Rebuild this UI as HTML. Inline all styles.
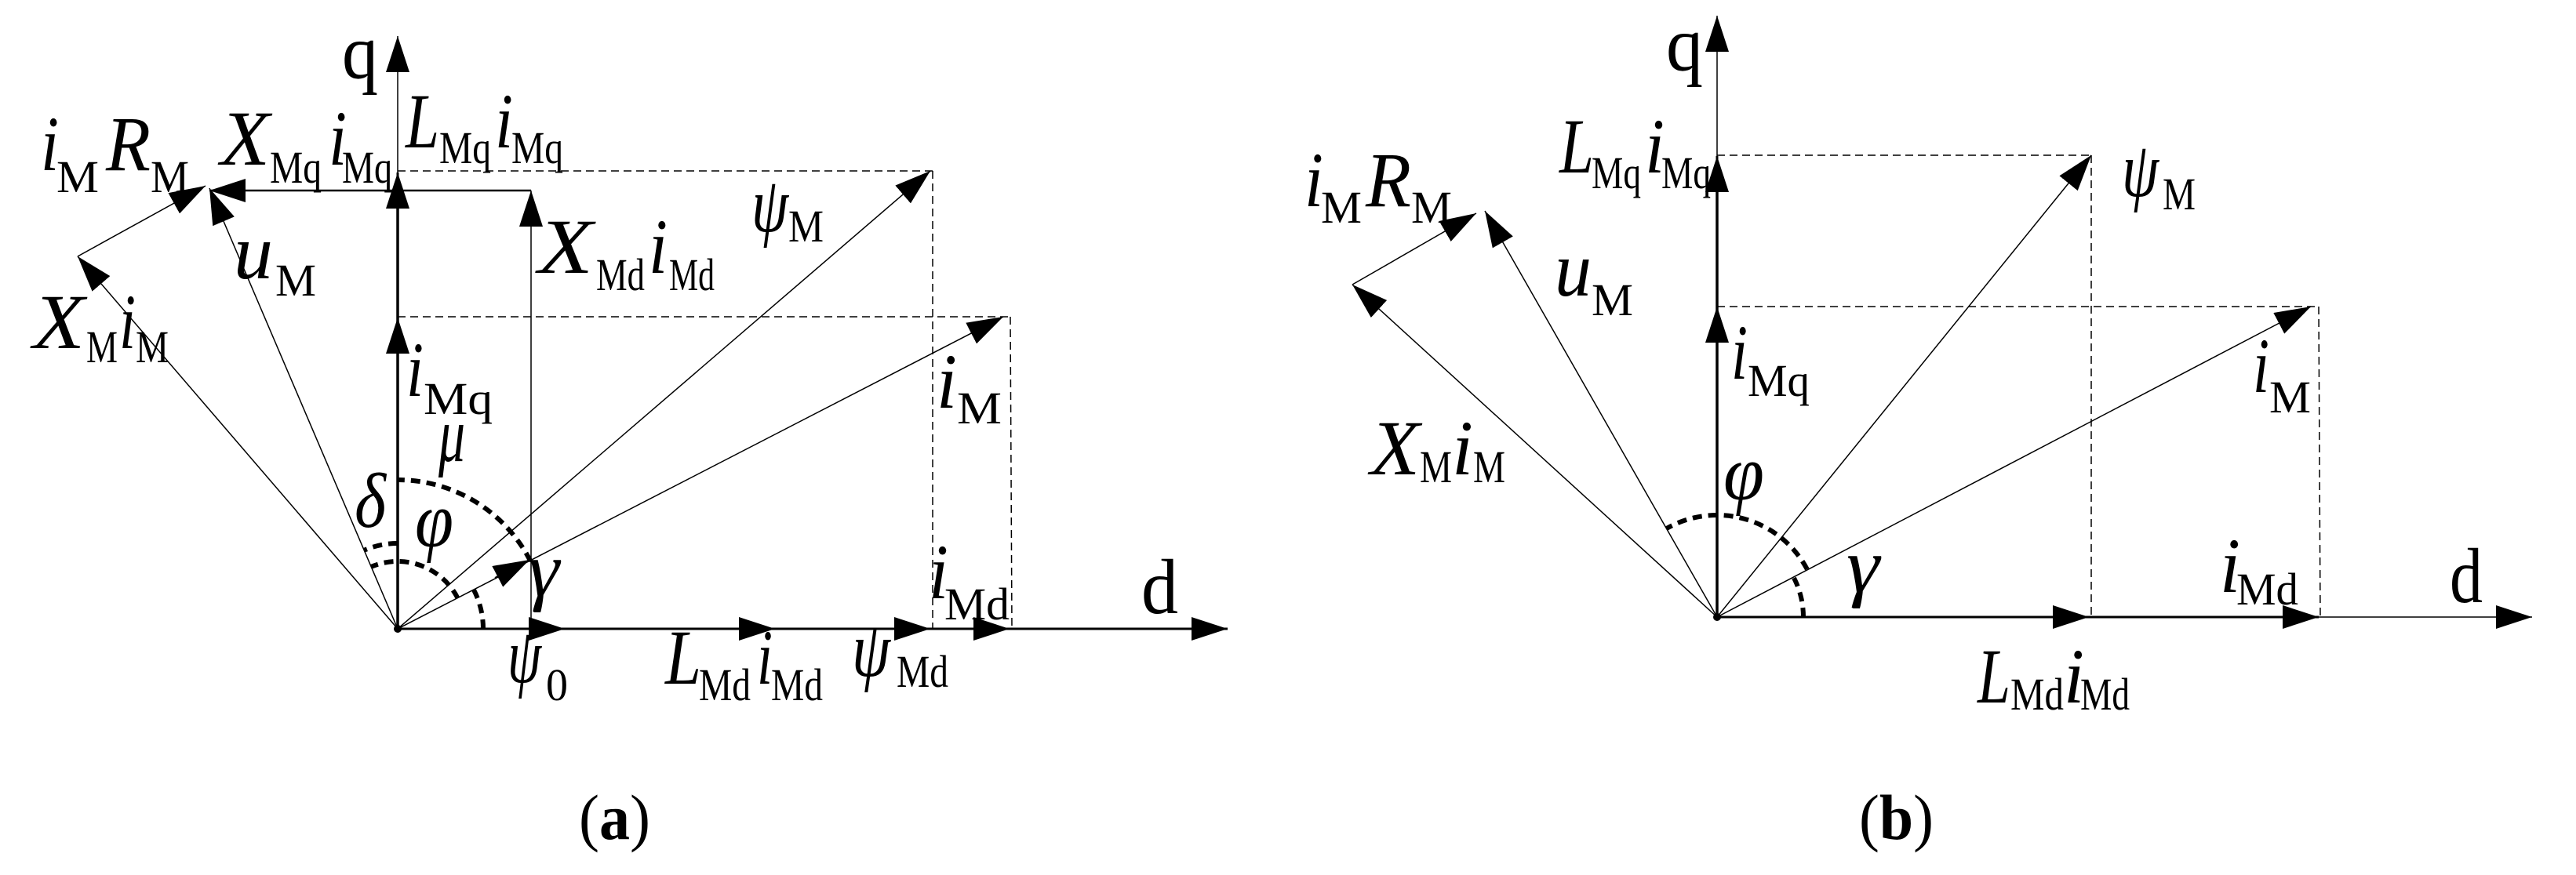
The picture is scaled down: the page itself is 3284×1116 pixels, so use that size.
<!DOCTYPE html>
<html><head><meta charset="utf-8"><style>
html,body{margin:0;padding:0;background:#fff;}
svg{display:block}
.m{font-family:"Liberation Serif",serif;font-style:italic;font-size:100px;fill:#000}
.u{font-family:"Liberation Serif",serif;font-size:100px;fill:#000}
.s{font-family:"Liberation Serif",serif;font-size:58px;fill:#000}
.c{font-family:"Liberation Serif",serif;font-size:82px;fill:#000}
</style></head><body>
<svg width="3284" height="1116" viewBox="0 0 3284 1116" xmlns="http://www.w3.org/2000/svg">
<defs>
<marker id="a" markerWidth="46" markerHeight="30" refX="46" refY="15" orient="auto" markerUnits="userSpaceOnUse"><path d="M0,0 L46,15 L0,30 z" fill="#000"/></marker>
</defs>
<rect width="3284" height="1116" fill="#fff"/>
<g stroke="#000" fill="none">
<!-- Panel a -->
<line x1="507" y1="802" x2="1565" y2="802" stroke-width="3" marker-end="url(#a)"/>
<line x1="670" y1="802" x2="720" y2="802" stroke-width="3" marker-end="url(#a)"/>
<line x1="938" y1="802" x2="988" y2="802" stroke-width="3" marker-end="url(#a)"/>
<line x1="1136" y1="802" x2="1186" y2="802" stroke-width="3" marker-end="url(#a)"/>
<line x1="1237" y1="802" x2="1287" y2="802" stroke-width="3" marker-end="url(#a)"/>
<line x1="507" y1="802" x2="507" y2="46" stroke-width="1.5" marker-end="url(#a)"/>
<line x1="507" y1="802" x2="507" y2="243" stroke-width="3.5"/>
<line x1="507" y1="270" x2="507" y2="220" stroke-width="3" marker-end="url(#a)"/>
<line x1="507" y1="455" x2="507" y2="405" stroke-width="3" marker-end="url(#a)"/>
<line x1="677" y1="243" x2="267" y2="243" stroke-width="2.5" marker-end="url(#a)"/>
<line x1="677" y1="802" x2="677" y2="243" stroke-width="1.5" marker-end="url(#a)"/>
<line x1="507" y1="802" x2="267" y2="240" stroke-width="1.5" marker-end="url(#a)"/>
<line x1="507" y1="802" x2="99" y2="327" stroke-width="1.5" marker-end="url(#a)"/>
<line x1="99" y1="327" x2="262" y2="237" stroke-width="1.5" marker-end="url(#a)"/>
<line x1="507" y1="802" x2="1186" y2="218" stroke-width="1.5" marker-end="url(#a)"/>
<line x1="507" y1="802" x2="1279" y2="404" stroke-width="1.5" marker-end="url(#a)"/>
<line x1="631" y1="737" x2="675" y2="714" stroke-width="2" marker-end="url(#a)"/>
<g stroke-width="1.5" stroke-dasharray="10 6">
<line x1="507" y1="218" x2="1189" y2="218"/>
<line x1="1189" y1="218" x2="1189" y2="802"/>
<line x1="507" y1="404" x2="1288" y2="404"/>
<line x1="1288" y1="404" x2="1290" y2="802"/>
</g>
<g stroke-width="6" stroke-dasharray="12 8">
<path d="M616,802 A109,109 0 0 0 604.1,752.5"/>
<path d="M583.6,763 A86,86 0 0 0 473.4,722.8"/>
<path d="M507,693 A109,109 0 0 0 464.4,701.7"/>
<path d="M676.3,715.7 A190,190 0 0 0 507,612"/>
</g>
<!-- Panel b -->
<line x1="2189" y1="787" x2="3228" y2="787" stroke-width="1.5" marker-end="url(#a)"/>
<line x1="2189" y1="787" x2="2956" y2="787" stroke-width="3"/>
<line x1="2613" y1="787" x2="2663" y2="787" stroke-width="3" marker-end="url(#a)"/>
<line x1="2906" y1="787" x2="2956" y2="787" stroke-width="3" marker-end="url(#a)"/>
<line x1="2189" y1="787" x2="2189" y2="20" stroke-width="1.5" marker-end="url(#a)"/>
<line x1="2189" y1="787" x2="2189" y2="220" stroke-width="3.5"/>
<line x1="2189" y1="250" x2="2189" y2="199" stroke-width="3" marker-end="url(#a)"/>
<line x1="2189" y1="441" x2="2189" y2="391" stroke-width="3" marker-end="url(#a)"/>
<line x1="2189" y1="787" x2="2666" y2="198" stroke-width="1.5" marker-end="url(#a)"/>
<line x1="2189" y1="787" x2="2946" y2="391" stroke-width="1.5" marker-end="url(#a)"/>
<line x1="2189" y1="787" x2="1893" y2="269" stroke-width="1.5" marker-end="url(#a)"/>
<line x1="2189" y1="787" x2="1724" y2="363" stroke-width="1.5" marker-end="url(#a)"/>
<line x1="1724" y1="363" x2="1882" y2="272" stroke-width="1.5" marker-end="url(#a)"/>
<g stroke-width="1.5" stroke-dasharray="10 6">
<line x1="2189" y1="198" x2="2666" y2="198"/>
<line x1="2666" y1="198" x2="2666" y2="787"/>
<line x1="2189" y1="391" x2="2956" y2="391"/>
<line x1="2956" y1="391" x2="2958" y2="787"/>
</g>
<g stroke-width="6" stroke-dasharray="12 8">
<path d="M2303.8,726 A130,130 0 0 0 2124,674.4"/>
<path d="M2299,787 A110,110 0 0 0 2287,737.1"/>
</g>
</g>
<circle cx="507" cy="802" r="5" fill="#000"/>
<circle cx="2189" cy="787" r="5" fill="#000"/>

<!-- Labels a -->
<text class="u" x="436" y="100" textLength="46" lengthAdjust="spacingAndGlyphs">q</text>
<text class="m" x="52" y="217" textLength="23" lengthAdjust="spacingAndGlyphs">i</text>
<text class="s" x="72" y="245" textLength="54" lengthAdjust="spacingAndGlyphs">M</text>
<text class="m" x="135" y="217" textLength="57" lengthAdjust="spacingAndGlyphs">R</text>
<text class="s" x="192" y="245" textLength="49" lengthAdjust="spacingAndGlyphs">M</text>
<text class="m" x="281" y="210" textLength="63" lengthAdjust="spacingAndGlyphs">X</text>
<text class="s" x="344" y="233" textLength="66" lengthAdjust="spacingAndGlyphs">Mq</text>
<text class="m" x="419" y="210" textLength="23" lengthAdjust="spacingAndGlyphs">i</text>
<text class="s" x="436" y="233" textLength="64" lengthAdjust="spacingAndGlyphs">Mq</text>
<text class="m" x="517" y="188" textLength="43" lengthAdjust="spacingAndGlyphs">L</text>
<text class="s" x="560" y="208" textLength="66" lengthAdjust="spacingAndGlyphs">Mq</text>
<text class="m" x="631" y="188" textLength="23" lengthAdjust="spacingAndGlyphs">i</text>
<text class="s" x="652" y="208" textLength="66" lengthAdjust="spacingAndGlyphs">Mq</text>
<text class="m" x="686" y="348" textLength="70" lengthAdjust="spacingAndGlyphs">X</text>
<text class="s" x="760" y="370" textLength="62" lengthAdjust="spacingAndGlyphs">Md</text>
<text class="m" x="827" y="348" textLength="24" lengthAdjust="spacingAndGlyphs">i</text>
<text class="s" x="853" y="370" textLength="58" lengthAdjust="spacingAndGlyphs">Md</text>
<text class="m" x="958" y="295" textLength="47" lengthAdjust="spacingAndGlyphs">ψ</text>
<text class="s" x="1005" y="308" textLength="45" lengthAdjust="spacingAndGlyphs">M</text>
<text class="m" x="298" y="355" textLength="50" lengthAdjust="spacingAndGlyphs">u</text>
<text class="s" x="351" y="377" textLength="52" lengthAdjust="spacingAndGlyphs">M</text>
<text class="m" x="42" y="444" textLength="66" lengthAdjust="spacingAndGlyphs">X</text>
<text class="s" x="110" y="462" textLength="40" lengthAdjust="spacingAndGlyphs">M</text>
<text class="m" x="152" y="444" textLength="21" lengthAdjust="spacingAndGlyphs">i</text>
<text class="s" x="173" y="462" textLength="42" lengthAdjust="spacingAndGlyphs">M</text>
<text class="m" x="518" y="505" textLength="22" lengthAdjust="spacingAndGlyphs">i</text>
<text class="s" x="540" y="528" textLength="88" lengthAdjust="spacingAndGlyphs">Mq</text>
<text class="m" x="1194" y="520" textLength="26" lengthAdjust="spacingAndGlyphs">i</text>
<text class="s" x="1220" y="540" textLength="57" lengthAdjust="spacingAndGlyphs">M</text>
<text class="m" x="559" y="588" textLength="34" lengthAdjust="spacingAndGlyphs">μ</text>
<text class="m" x="452" y="672" textLength="40" lengthAdjust="spacingAndGlyphs">δ</text>
<text class="m" x="529" y="697" textLength="49" lengthAdjust="spacingAndGlyphs">φ</text>
<text class="m" x="673" y="760" textLength="40" lengthAdjust="spacingAndGlyphs">γ</text>
<text class="m" x="1184" y="763" textLength="25" lengthAdjust="spacingAndGlyphs">i</text>
<text class="s" x="1204" y="790" textLength="83" lengthAdjust="spacingAndGlyphs">Md</text>
<text class="u" x="1455" y="782" textLength="47" lengthAdjust="spacingAndGlyphs">d</text>
<text class="m" x="647" y="870" textLength="43" lengthAdjust="spacingAndGlyphs">ψ</text>
<text class="s" x="696" y="893" textLength="28" lengthAdjust="spacingAndGlyphs">0</text>
<text class="m" x="848" y="872" textLength="46" lengthAdjust="spacingAndGlyphs">L</text>
<text class="s" x="891" y="893" textLength="66" lengthAdjust="spacingAndGlyphs">Md</text>
<text class="m" x="965" y="872" textLength="20" lengthAdjust="spacingAndGlyphs">i</text>
<text class="s" x="983" y="893" textLength="66" lengthAdjust="spacingAndGlyphs">Md</text>
<text class="m" x="1086" y="862" textLength="49" lengthAdjust="spacingAndGlyphs">ψ</text>
<text class="s" x="1143" y="876" textLength="66" lengthAdjust="spacingAndGlyphs">Md</text>
<text class="c" x="738" y="1070" textLength="91" lengthAdjust="spacingAndGlyphs">(<tspan font-weight="bold">a</tspan>)</text>

<!-- Labels b -->
<text class="u" x="2124" y="90" textLength="47" lengthAdjust="spacingAndGlyphs">q</text>
<text class="m" x="1988" y="220" textLength="44" lengthAdjust="spacingAndGlyphs">L</text>
<text class="s" x="2029" y="240" textLength="63" lengthAdjust="spacingAndGlyphs">Mq</text>
<text class="m" x="2097" y="220" textLength="25" lengthAdjust="spacingAndGlyphs">i</text>
<text class="s" x="2118" y="240" textLength="63" lengthAdjust="spacingAndGlyphs">Mq</text>
<text class="m" x="2705" y="250" textLength="47" lengthAdjust="spacingAndGlyphs">ψ</text>
<text class="s" x="2757" y="267" textLength="42" lengthAdjust="spacingAndGlyphs">M</text>
<text class="m" x="1663" y="263" textLength="24" lengthAdjust="spacingAndGlyphs">i</text>
<text class="s" x="1684" y="284" textLength="52" lengthAdjust="spacingAndGlyphs">M</text>
<text class="m" x="1741" y="263" textLength="58" lengthAdjust="spacingAndGlyphs">R</text>
<text class="s" x="1799" y="284" textLength="52" lengthAdjust="spacingAndGlyphs">M</text>
<text class="m" x="1982" y="377" textLength="47" lengthAdjust="spacingAndGlyphs">u</text>
<text class="s" x="2029" y="402" textLength="53" lengthAdjust="spacingAndGlyphs">M</text>
<text class="m" x="2207" y="483" textLength="21" lengthAdjust="spacingAndGlyphs">i</text>
<text class="s" x="2228" y="505" textLength="79" lengthAdjust="spacingAndGlyphs">Mq</text>
<text class="m" x="2872" y="500" textLength="21" lengthAdjust="spacingAndGlyphs">i</text>
<text class="s" x="2893" y="526" textLength="53" lengthAdjust="spacingAndGlyphs">M</text>
<text class="m" x="1747" y="605" textLength="63" lengthAdjust="spacingAndGlyphs">X</text>
<text class="s" x="1810" y="615" textLength="41" lengthAdjust="spacingAndGlyphs">M</text>
<text class="m" x="1851" y="605" textLength="27" lengthAdjust="spacingAndGlyphs">i</text>
<text class="s" x="1878" y="615" textLength="41" lengthAdjust="spacingAndGlyphs">M</text>
<text class="m" x="2197" y="637" textLength="52" lengthAdjust="spacingAndGlyphs">φ</text>
<text class="m" x="2354" y="755" textLength="42" lengthAdjust="spacingAndGlyphs">γ</text>
<text class="m" x="2830" y="755" textLength="26" lengthAdjust="spacingAndGlyphs">i</text>
<text class="s" x="2851" y="771" textLength="79" lengthAdjust="spacingAndGlyphs">Md</text>
<text class="u" x="3123" y="768" textLength="42" lengthAdjust="spacingAndGlyphs">d</text>
<text class="m" x="2521" y="896" textLength="42" lengthAdjust="spacingAndGlyphs">L</text>
<text class="s" x="2563" y="905" textLength="68" lengthAdjust="spacingAndGlyphs">Md</text>
<text class="m" x="2631" y="896" textLength="26" lengthAdjust="spacingAndGlyphs">i</text>
<text class="s" x="2652" y="905" textLength="63" lengthAdjust="spacingAndGlyphs">Md</text>
<text class="c" x="2370" y="1070" textLength="95" lengthAdjust="spacingAndGlyphs">(<tspan font-weight="bold">b</tspan>)</text>
</svg>
</body></html>
